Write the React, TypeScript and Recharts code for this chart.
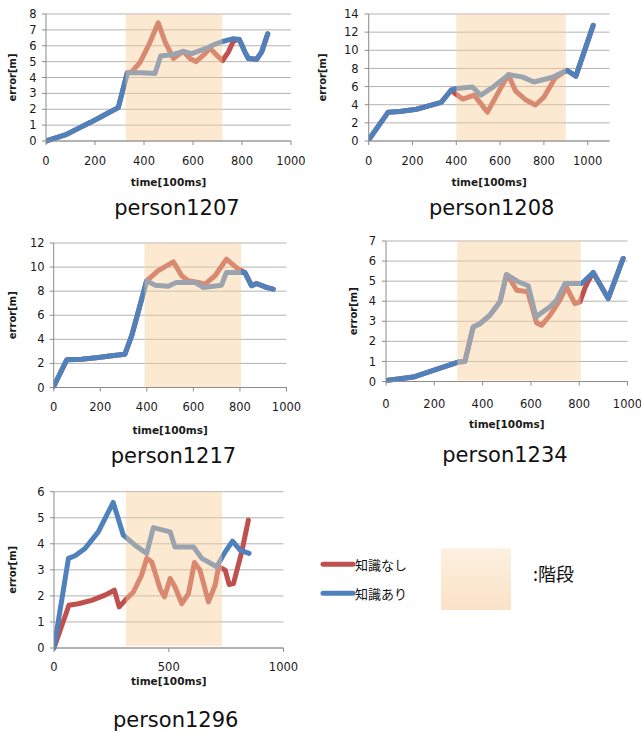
import React from 'react';
import { LineChart, Line, XAxis, YAxis, CartesianGrid, ReferenceArea } from 'recharts';

type Pt = { t: number; v: number };

const RED = '#c0504d';
const BLUE = '#4f81bd';
const SHADE = '#f8cf9c';
const FONT = '"DejaVu Sans", "Liberation Sans", sans-serif';
const CJK = '"Noto Sans CJK JP", "Noto Sans CJK SC", sans-serif';

const SERIES_NAMES = ['知識なし', '知識あり'];
const STAIRS_LABEL = ':階段';
const X_LABEL = 'time[100ms]';
const Y_LABEL = 'error[m]';

// person1207
const p1207Nashi: Pt[] = [
  { t: 0, v: 0 }, { t: 40, v: 0.2 }, { t: 85, v: 0.42 }, { t: 130, v: 0.78 }, { t: 180, v: 1.16 },
  { t: 240, v: 1.65 }, { t: 295, v: 2.1 }, { t: 332, v: 4.3 }, { t: 350, v: 4.35 }, { t: 384, v: 4.95 },
  { t: 424, v: 6.2 }, { t: 458, v: 7.45 }, { t: 486, v: 6.25 }, { t: 520, v: 5.2 }, { t: 560, v: 5.65 },
  { t: 588, v: 5.2 }, { t: 612, v: 5.0 }, { t: 649, v: 5.5 }, { t: 669, v: 5.85 }, { t: 697, v: 5.4 },
  { t: 721, v: 5.07 }, { t: 744, v: 5.6 }, { t: 765, v: 6.3 }, { t: 789, v: 6.4 }, { t: 812, v: 5.6 },
  { t: 826, v: 5.2 }, { t: 860, v: 5.15 }, { t: 880, v: 5.6 }, { t: 905, v: 6.75 },
];
const p1207Ari: Pt[] = [
  { t: 0, v: 0 }, { t: 40, v: 0.2 }, { t: 85, v: 0.42 }, { t: 130, v: 0.78 }, { t: 180, v: 1.16 },
  { t: 240, v: 1.65 }, { t: 295, v: 2.1 }, { t: 332, v: 4.3 }, { t: 390, v: 4.3 }, { t: 445, v: 4.25 },
  { t: 468, v: 5.35 }, { t: 520, v: 5.45 }, { t: 560, v: 5.65 }, { t: 595, v: 5.5 }, { t: 656, v: 5.85 },
  { t: 683, v: 6.05 }, { t: 717, v: 6.25 }, { t: 765, v: 6.45 }, { t: 789, v: 6.4 }, { t: 812, v: 5.6 },
  { t: 826, v: 5.2 }, { t: 860, v: 5.15 }, { t: 880, v: 5.6 }, { t: 905, v: 6.75 },
];

// person1208
const p1208Nashi: Pt[] = [
  { t: 5, v: 0.3 }, { t: 89, v: 3.18 }, { t: 142, v: 3.25 }, { t: 218, v: 3.5 }, { t: 278, v: 3.9 },
  { t: 331, v: 4.26 }, { t: 376, v: 5.6 }, { t: 399, v: 5.16 }, { t: 429, v: 4.62 }, { t: 482, v: 5.05 },
  { t: 542, v: 3.18 }, { t: 595, v: 5.5 }, { t: 637, v: 7.3 }, { t: 671, v: 5.5 }, { t: 716, v: 4.55 },
  { t: 761, v: 3.97 }, { t: 799, v: 4.8 }, { t: 852, v: 6.97 }, { t: 905, v: 7.8 }, { t: 946, v: 7.15 },
  { t: 1025, v: 12.75 },
];
const p1208Ari: Pt[] = [
  { t: 5, v: 0.3 }, { t: 89, v: 3.18 }, { t: 142, v: 3.25 }, { t: 218, v: 3.5 }, { t: 278, v: 3.9 },
  { t: 331, v: 4.26 }, { t: 376, v: 5.6 }, { t: 399, v: 5.78 }, { t: 474, v: 5.96 }, { t: 512, v: 5.05 },
  { t: 565, v: 5.9 }, { t: 640, v: 7.3 }, { t: 701, v: 7.07 }, { t: 754, v: 6.5 }, { t: 837, v: 7.0 },
  { t: 905, v: 7.8 }, { t: 946, v: 7.15 }, { t: 1025, v: 12.75 },
];

// person1217
const p1217Nashi: Pt[] = [
  { t: 0, v: 0.1 }, { t: 5, v: 0.28 }, { t: 56, v: 2.3 }, { t: 120, v: 2.35 }, { t: 192, v: 2.5 },
  { t: 249, v: 2.63 }, { t: 306, v: 2.77 }, { t: 335, v: 4.3 }, { t: 378, v: 7.34 }, { t: 399, v: 8.86 },
  { t: 449, v: 9.7 }, { t: 514, v: 10.44 }, { t: 550, v: 9.28 }, { t: 578, v: 8.86 }, { t: 621, v: 8.73 },
  { t: 650, v: 8.59 }, { t: 693, v: 9.28 }, { t: 742, v: 10.66 }, { t: 793, v: 9.83 }, { t: 821, v: 9.56 },
  { t: 850, v: 8.45 }, { t: 871, v: 8.64 }, { t: 914, v: 8.31 }, { t: 943, v: 8.17 },
];
const p1217Ari: Pt[] = [
  { t: 0, v: 0.1 }, { t: 5, v: 0.28 }, { t: 56, v: 2.3 }, { t: 120, v: 2.35 }, { t: 192, v: 2.5 },
  { t: 249, v: 2.63 }, { t: 306, v: 2.77 }, { t: 335, v: 4.3 }, { t: 378, v: 7.34 }, { t: 399, v: 8.86 },
  { t: 435, v: 8.5 }, { t: 492, v: 8.4 }, { t: 527, v: 8.73 }, { t: 607, v: 8.73 }, { t: 642, v: 8.31 },
  { t: 721, v: 8.5 }, { t: 742, v: 9.56 }, { t: 821, v: 9.56 }, { t: 850, v: 8.45 }, { t: 871, v: 8.64 },
  { t: 914, v: 8.31 }, { t: 943, v: 8.17 },
];

// person1234
const p1234Nashi: Pt[] = [
  { t: 0, v: 0.05 }, { t: 113, v: 0.22 }, { t: 196, v: 0.55 }, { t: 299, v: 0.97 }, { t: 327, v: 1.0 },
  { t: 361, v: 2.72 }, { t: 389, v: 2.88 }, { t: 430, v: 3.3 }, { t: 472, v: 3.97 }, { t: 499, v: 5.33 },
  { t: 520, v: 4.97 }, { t: 541, v: 4.55 }, { t: 587, v: 4.47 }, { t: 623, v: 2.93 }, { t: 644, v: 2.8 },
  { t: 679, v: 3.3 }, { t: 720, v: 4.05 }, { t: 747, v: 4.72 }, { t: 782, v: 3.88 }, { t: 803, v: 3.97 },
  { t: 823, v: 4.63 }, { t: 835, v: 4.95 }, { t: 858, v: 5.43 }, { t: 920, v: 4.13 }, { t: 982, v: 6.13 },
];
const p1234Ari: Pt[] = [
  { t: 0, v: 0.05 }, { t: 113, v: 0.22 }, { t: 196, v: 0.55 }, { t: 299, v: 0.97 }, { t: 327, v: 1.0 },
  { t: 361, v: 2.72 }, { t: 389, v: 2.88 }, { t: 430, v: 3.3 }, { t: 472, v: 3.97 }, { t: 499, v: 5.33 },
  { t: 547, v: 4.97 }, { t: 589, v: 4.77 }, { t: 621, v: 3.22 }, { t: 679, v: 3.72 }, { t: 706, v: 4.05 },
  { t: 741, v: 4.88 }, { t: 810, v: 4.88 }, { t: 858, v: 5.43 }, { t: 920, v: 4.13 }, { t: 982, v: 6.13 },
];

// person1296
const p1296Nashi: Pt[] = [
  { t: 0, v: 0 }, { t: 65, v: 1.64 }, { t: 106, v: 1.7 }, { t: 164, v: 1.83 }, { t: 222, v: 2.03 },
  { t: 263, v: 2.22 }, { t: 284, v: 1.58 }, { t: 310, v: 1.83 }, { t: 346, v: 2.15 }, { t: 382, v: 2.8 },
  { t: 404, v: 3.44 }, { t: 426, v: 3.3 }, { t: 462, v: 2.28 }, { t: 481, v: 1.96 }, { t: 506, v: 2.67 },
  { t: 527, v: 2.35 }, { t: 557, v: 1.7 }, { t: 586, v: 2.09 }, { t: 612, v: 3.28 }, { t: 636, v: 2.99 },
  { t: 673, v: 1.77 }, { t: 702, v: 2.41 }, { t: 717, v: 3.12 }, { t: 746, v: 2.99 }, { t: 763, v: 2.44 },
  { t: 782, v: 2.47 }, { t: 818, v: 3.69 }, { t: 847, v: 4.91 },
];
const p1296Ari: Pt[] = [
  { t: 0, v: 0 }, { t: 63, v: 3.44 }, { t: 92, v: 3.54 }, { t: 135, v: 3.82 }, { t: 193, v: 4.46 },
  { t: 258, v: 5.59 }, { t: 302, v: 4.33 }, { t: 353, v: 3.95 }, { t: 404, v: 3.63 }, { t: 433, v: 4.62 },
  { t: 506, v: 4.46 }, { t: 527, v: 3.88 }, { t: 608, v: 3.88 }, { t: 644, v: 3.44 }, { t: 709, v: 3.12 },
  { t: 746, v: 3.69 }, { t: 778, v: 4.1 }, { t: 811, v: 3.76 }, { t: 850, v: 3.63 },
];

const ticks1000 = [0, 200, 400, 600, 800, 1000];
const ticks500 = [0, 500, 1000];
const yTicks8 = [0, 1, 2, 3, 4, 5, 6, 7, 8];
const yTicks14 = [0, 2, 4, 6, 8, 10, 12, 14];
const yTicks12 = [0, 2, 4, 6, 8, 10, 12];
const yTicks7 = [0, 1, 2, 3, 4, 5, 6, 7];
const yTicks6 = [0, 1, 2, 3, 4, 5, 6];

interface PanelProps {
  title: string;
  box: [number, number, number, number];
  plot: [number, number, number, number];
  xDomain: [number, number];
  xTicks: number[];
  yDomain: [number, number];
  yTicks: number[];
  shade: [number, number, number, number];
  nashi: Pt[];
  ari: Pt[];
  xTickCenter: number;
  timeY: number;
  errX: number;
  yGap: number;
  titleX: number;
  titleBase: number;
}

const TICK_FS = 11.5;
const LABEL_FS = 10.5;

function Panel(p: PanelProps) {
  const [bx, by, bw, bh] = p.box;
  const [pl, pr, pt, pb] = p.plot;
  const xAxisH = p.timeY + 0.36 * LABEL_FS - pb;
  const margin = { top: pt - by, right: bx + bw - pr, left: 0, bottom: by + bh - pb - xAxisH };
  const xTickMargin = p.xTickCenter - pb - 4 - 0.36 * TICK_FS;
  return (
    <div style={{ position: 'absolute', left: bx, top: by, width: bw, height: bh }}>
      <LineChart width={bw} height={bh} margin={margin}>
        <CartesianGrid vertical={false} stroke="#b3b3b3" strokeWidth={1} />
        <XAxis
          type="number"
          dataKey="t"
          domain={p.xDomain}
          ticks={p.xTicks}
          interval={0}
          allowDataOverflow
          height={xAxisH}
          tickSize={4}
          tickMargin={xTickMargin}
          stroke="#8c8c8c"
          tick={{ fill: '#1a1a1a', fontSize: TICK_FS, fontFamily: FONT }}
          label={{
            value: X_LABEL,
            position: 'insideBottom',
            offset: 0,
            style: { fontFamily: FONT, fontWeight: 'bold', fontSize: LABEL_FS, fill: '#1a1a1a' },
          }}
        />
        <YAxis
          type="number"
          domain={p.yDomain}
          ticks={p.yTicks}
          interval={0}
          width={pl - bx}
          tickSize={4}
          tickMargin={p.yGap - 4}
          stroke="#8c8c8c"
          tick={{ fill: '#1a1a1a', fontSize: TICK_FS, fontFamily: FONT }}
          label={{
            value: Y_LABEL,
            angle: -90,
            position: 'insideLeft',
            offset: p.errX - bx,
            style: { textAnchor: 'middle', fontFamily: FONT, fontWeight: 'bold', fontSize: 10, fill: '#1a1a1a' },
          }}
        />
        <Line
          data={p.nashi}
          dataKey="v"
          name={SERIES_NAMES[0]}
          type="linear"
          stroke={RED}
          strokeWidth={5}
          strokeLinejoin="round"
          strokeLinecap="round"
          dot={false}
          activeDot={false}
          isAnimationActive={false}
        />
        <Line
          data={p.ari}
          dataKey="v"
          name={SERIES_NAMES[1]}
          type="linear"
          stroke={BLUE}
          strokeWidth={5}
          strokeLinejoin="round"
          strokeLinecap="round"
          dot={false}
          activeDot={false}
          isAnimationActive={false}
        />
        <ReferenceArea
          x1={p.shade[0]}
          x2={p.shade[1]}
          y1={p.shade[2]}
          y2={p.shade[3]}
          fill={SHADE}
          fillOpacity={0.45}
          stroke="none"
          ifOverflow="visible"
          {...({ zIndex: 450 } as any)}
        />
      </LineChart>
    </div>
  );
}

const panels: PanelProps[] = [
  {
    title: 'person1207', box: [0, 0, 305, 195], plot: [46, 291, 14, 141],
    xDomain: [0, 1000], xTicks: ticks1000, yDomain: [0, 8], yTicks: yTicks8,
    shade: [325, 720, 0, 8], nashi: p1207Nashi, ari: p1207Ari,
    xTickCenter: 161, timeY: 182, errX: 12.5, yGap: 9.5, titleX: 177, titleBase: 215,
  },
  {
    title: 'person1208', box: [310, 0, 331, 195], plot: [368.7, 609.6, 14, 141],
    xDomain: [0, 1100], xTicks: ticks1000, yDomain: [0, 14], yTicks: yTicks14,
    shade: [400, 900, 0, 14], nashi: p1208Nashi, ari: p1208Ari,
    xTickCenter: 161, timeY: 182, errX: 322.5, yGap: 10, titleX: 491.7, titleBase: 215,
  },
  {
    title: 'person1217', box: [0, 230, 305, 210], plot: [53.7, 286.5, 243, 387.5],
    xDomain: [0, 1000], xTicks: ticks1000, yDomain: [0, 12], yTicks: yTicks12,
    shade: [390, 805, 0, 12], nashi: p1217Nashi, ari: p1217Ari,
    xTickCenter: 406.7, timeY: 430, errX: 12, yGap: 9, titleX: 173.5, titleBase: 463,
  },
  {
    title: 'person1234', box: [310, 230, 331, 210], plot: [386, 627.5, 241, 381.5],
    xDomain: [0, 1000], xTicks: ticks1000, yDomain: [0, 7], yTicks: yTicks7,
    shade: [295, 807, 0.05, 7], nashi: p1234Nashi, ari: p1234Ari,
    xTickCenter: 404, timeY: 424, errX: 353.3, yGap: 10, titleX: 505, titleBase: 462,
  },
  {
    title: 'person1296', box: [0, 470, 305, 264], plot: [54, 283.5, 491.7, 648],
    xDomain: [0, 1000], xTicks: ticks500, yDomain: [0, 6], yTicks: yTicks6,
    shade: [313, 732, 0.08, 6], nashi: p1296Nashi, ari: p1296Ari,
    xTickCenter: 666.7, timeY: 681.7, errX: 12, yGap: 9.5, titleX: 175.7, titleBase: 726.5,
  },
];

export default function App() {
  return (
    <div style={{ position: 'absolute', left: 0, top: 0, width: 641, height: 734, background: '#fff', overflow: 'hidden' }}>
      {panels.map((p) => (
        <Panel key={p.title} {...p} />
      ))}
      <svg width={641} height={734} style={{ position: 'absolute', left: 0, top: 0, pointerEvents: 'none' }}>
        <defs>
          <linearGradient id="stairsGrad" x1="0" y1="0" x2="0" y2="1">
            <stop offset="0%" stopColor="#fdf0e1" />
            <stop offset="100%" stopColor="#fae2c6" />
          </linearGradient>
        </defs>
        {panels.map((p) => (
          <text key={p.title} x={p.titleX} y={p.titleBase} textAnchor="middle" fontFamily={FONT} fontSize={21} fill="#111">
            {p.title}
          </text>
        ))}
        <line x1={323} y1={564.3} x2={353} y2={564.3} stroke={RED} strokeWidth={5} strokeLinecap="round" />
        <text x={355} y={570} fontFamily={CJK} fontSize={13} fill="#111">{SERIES_NAMES[0]}</text>
        <line x1={323} y1={593.3} x2={353} y2={593.3} stroke={BLUE} strokeWidth={5} strokeLinecap="round" />
        <text x={355} y={599} fontFamily={CJK} fontSize={13} fill="#111">{SERIES_NAMES[1]}</text>
        <rect x={441} y={548.3} width={70} height={61.7} fill="url(#stairsGrad)" />
        <text x={533} y={581} fontFamily={CJK} fontSize={18} fill="#111">{STAIRS_LABEL}</text>
      </svg>
    </div>
  );
}
